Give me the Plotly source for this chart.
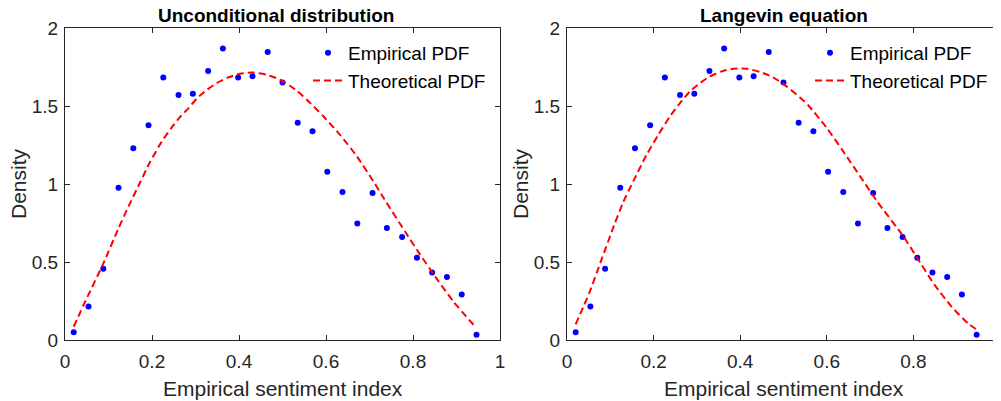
import plotly.graph_objects as go

# ---- data ----
x_emp = [0.020, 0.054, 0.088, 0.123, 0.157, 0.192, 0.226, 0.261, 0.294, 0.329,
         0.363, 0.398, 0.431, 0.466, 0.500, 0.535, 0.569, 0.603, 0.638, 0.672,
         0.707, 0.740, 0.775, 0.809, 0.844, 0.878, 0.912, 0.946]
y_emp = [0.049, 0.214, 0.457, 0.976, 1.229, 1.376, 1.682, 1.571, 1.579, 1.724,
         1.868, 1.682, 1.690, 1.846, 1.650, 1.393, 1.338, 1.079, 0.949, 0.746,
         0.942, 0.718, 0.660, 0.528, 0.432, 0.404, 0.291, 0.034]

x_uncond = [0.020, 0.047, 0.088, 0.123, 0.146, 0.172, 0.195, 0.222, 0.245, 0.264,
            0.284, 0.303, 0.326, 0.349, 0.376, 0.402, 0.433, 0.464, 0.494, 0.517,
            0.533, 0.556, 0.594, 0.632, 0.671, 0.709, 0.733, 0.782, 0.816, 0.854,
            0.893, 0.945]
y_uncond = [0.085, 0.250, 0.490, 0.716, 0.857, 1.006, 1.138, 1.270, 1.362, 1.428,
            1.486, 1.548, 1.603, 1.647, 1.684, 1.707, 1.714, 1.701, 1.669, 1.630,
            1.598, 1.540, 1.434, 1.316, 1.177, 1.017, 0.908, 0.694, 0.549, 0.395,
            0.246, 0.079]

x_lang = [0.020, 0.051, 0.078, 0.109, 0.130, 0.153, 0.184, 0.211, 0.238, 0.261,
          0.284, 0.307, 0.330, 0.357, 0.384, 0.415, 0.446, 0.476, 0.507, 0.538,
          0.557, 0.600, 0.638, 0.677, 0.715, 0.778, 0.807, 0.849, 0.888, 0.926,
          0.951]
y_lang = [0.100, 0.299, 0.502, 0.737, 0.885, 1.017, 1.188, 1.316, 1.434, 1.519,
          1.594, 1.647, 1.690, 1.722, 1.739, 1.739, 1.718, 1.684, 1.626, 1.555,
          1.505, 1.359, 1.209, 1.049, 0.893, 0.660, 0.534, 0.353, 0.214, 0.107,
          0.058]

titles = ["Unconditional distribution", "Langevin equation"]
x_label = "Empirical sentiment index"
y_label = "Density"
x_ticks = [0, 0.2, 0.4, 0.6, 0.8, 1]
x_ticktext = ["0", "0.2", "0.4", "0.6", "0.8", "1"]
y_ticks = [0, 0.5, 1, 1.5, 2]
y_ticktext = ["0", "0.5", "1", "1.5", "2"]

# the page body has an 8px margin; size the figure to fill the rest of the window
OFF = 8
W, H = 1001 - OFF, 401 - OFF
FONT = "Liberation Sans, Arial, Helvetica, sans-serif"
AX = "#262626"


def px(x):
    return (x - OFF) / W


def py(y):
    return 1 - (y - OFF) / H


fig = go.Figure()

curves = [(x_uncond, y_uncond), (x_lang, y_lang)]
for i, (cx, cy) in enumerate(curves):
    sfx = "" if i == 0 else "2"
    leg = "legend" if i == 0 else "legend2"
    fig.add_trace(go.Scatter(
        x=x_emp, y=y_emp, mode="markers", name="Empirical PDF",
        marker=dict(color="#0000FF", size=6, line=dict(width=0)),
        xaxis="x" + sfx, yaxis="y" + sfx, legend=leg))
    fig.add_trace(go.Scatter(
        x=cx, y=cy, mode="lines", name="Theoretical PDF",
        line=dict(color="#FF0000", width=2, dash="7px,4px", shape="spline", smoothing=0.6),
        xaxis="x" + sfx, yaxis="y" + sfx, legend=leg))

ax_common = dict(
    showline=True, linecolor=AX, linewidth=1, mirror="ticks",
    ticks="inside", ticklen=5, tickcolor=AX, tickwidth=1,
    showgrid=False, zeroline=False, automargin=False,
    tickfont=dict(family=FONT, size=19, color=AX),
)

dom_x = [(px(65), px(500)), (px(567), px(1000))]
dom_y = (py(340), py(28))

layout = dict(
    template="none",
    width=W, height=H,
    margin=dict(l=0, r=0, t=0, b=0, pad=0, autoexpand=False),
    paper_bgcolor="white", plot_bgcolor="white",
    font=dict(family=FONT, color=AX),
)
for i in range(2):
    sfx = "" if i == 0 else "2"
    layout["xaxis" + sfx] = dict(ax_common, domain=list(dom_x[i]), range=[0, 1],
                                 tickvals=x_ticks, ticktext=x_ticktext,
                                 anchor="y" + sfx, ticklabelstandoff=4)
    layout["yaxis" + sfx] = dict(ax_common, domain=list(dom_y), range=[0, 2],
                                 tickvals=y_ticks, ticktext=y_ticktext,
                                 anchor="x" + sfx, ticklabelstandoff=2)

leg_common = dict(font=dict(family=FONT, size=19, color="#000000"),
                  bgcolor="rgba(0,0,0,0)", borderwidth=0,
                  xanchor="left", yanchor="top", tracegroupgap=0)
layout["legend"] = dict(leg_common, x=px(308), y=py(34))
layout["legend2"] = dict(leg_common, x=px(810), y=py(34))

fig.update_layout(**layout)

# titles and axis labels
title_cx = [276, 784]
xlab_cx = [282.5, 783.5]
ylab_cx = [18, 520]
for i in range(2):
    fig.add_annotation(text="<b>" + titles[i] + "</b>", x=px(title_cx[i]), y=py(16),
                       xref="paper", yref="paper", showarrow=False,
                       xanchor="center", yanchor="middle",
                       font=dict(family=FONT, size=19, color="#000000"))
    fig.add_annotation(text=x_label, x=px(xlab_cx[i]), y=py(388),
                       xref="paper", yref="paper", showarrow=False,
                       xanchor="center", yanchor="middle",
                       font=dict(family=FONT, size=21, color=AX))
    fig.add_annotation(text=y_label, x=px(ylab_cx[i]), y=py(184),
                       xref="paper", yref="paper", showarrow=False, textangle=-90,
                       xanchor="center", yanchor="middle",
                       font=dict(family=FONT, size=21, color=AX))

fig.write_html("out.html")
